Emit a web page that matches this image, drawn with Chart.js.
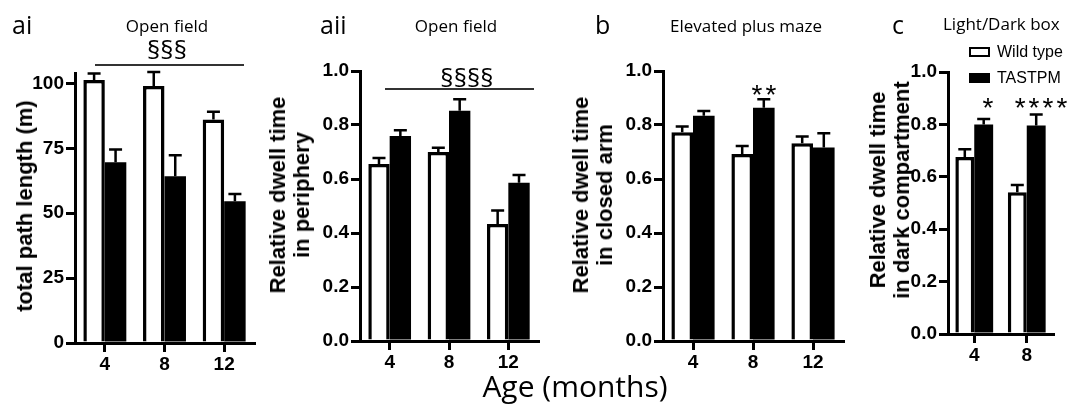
<!DOCTYPE html>
<html>
<head>
<meta charset="utf-8">
<script src="https://cdn.jsdelivr.net/npm/chart.js@4"></script>
<style>
  body { margin: 0; background: #fff; }
  #page { position: relative; width: 1070px; height: 412px; background: #fff; overflow: hidden; }
  canvas { position: absolute; top: 0; }
  .t { position: absolute; white-space: nowrap; line-height: 1; color: #000; }
  .os { font-family: "Open Sans", sans-serif; }
  .ar { font-family: "Liberation Sans", Arial, sans-serif; }
  .cx { transform: translateX(-50%); }
  .ytitle { position: absolute; font-family: "Liberation Sans", Arial, sans-serif; font-weight: bold;
            font-size: 22px; line-height: 24px; text-align: center; white-space: nowrap;
            transform: translate(-50%, -50%) rotate(-90deg); }
  .sig { position: absolute; height: 1.5px; background: #333; }
  .box { position: absolute; box-sizing: border-box; width: 21px; border: 2.5px solid #000; }
</style>
</head>
<body>
<div id="page">
  <canvas id="chartAi" width="270" height="380" style="left:0px"></canvas>
  <canvas id="chartAii" width="290" height="380" style="left:260px"></canvas>
  <canvas id="chartB" width="300" height="380" style="left:550px"></canvas>
  <canvas id="chartC" width="220" height="380" style="left:850px"></canvas>

  <div class="t os" style="left:12px;top:12px;font-size:25px">ai</div>
  <div class="t os" style="left:320px;top:12px;font-size:25px">aii</div>
  <div class="t os" style="left:595px;top:12px;font-size:25px">b</div>
  <div class="t os" style="left:892px;top:12px;font-size:25px">c</div>

  <div class="t os cx" style="left:167px;top:17px;font-size:17px">Open field</div>
  <div class="t os cx" style="left:456px;top:17px;font-size:17px">Open field</div>
  <div class="t os" style="left:670px;top:17px;font-size:17px">Elevated plus maze</div>
  <div class="t os" style="left:943px;top:15px;font-size:17px">Light/Dark box</div>

  <div class="t os cx" style="left:167px;top:36px;font-size:26px">§§§</div>
  <div class="sig" style="left:95px;top:64px;width:149px"></div>
  <div class="t os cx" style="left:467px;top:64px;font-size:26px">§§§§</div>
  <div class="sig" style="left:385px;top:88px;width:149px"></div>

  <div class="t ar cx" style="left:764px;top:81px;font-size:28px;letter-spacing:3px;padding-left:3px">**</div>
  <div class="t ar cx" style="left:988px;top:94px;font-size:28px">*</div>
  <div class="t ar cx" style="left:1041px;top:94px;font-size:28px;letter-spacing:3px;padding-left:3px">****</div>

  <div class="box" style="left:969px;top:47px;height:10px;background:#fff"></div>
  <div class="box" style="left:969px;top:73px;height:10px;background:#000"></div>
  <div class="t ar" style="left:997px;top:44px;font-size:16px">Wild type</div>
  <div class="t ar" style="left:997px;top:70px;font-size:16px">TASTPM</div>

  <div class="ytitle" style="left:25px;top:206px">total path length (m)</div>
  <div class="ytitle" style="left:290px;top:195px">Relative dwell time<br>in periphery</div>
  <div class="ytitle" style="left:593px;top:195px">Relative dwell time<br>in closed arm</div>
  <div class="ytitle" style="left:890px;top:190px">Relative dwell time<br>in dark compartment</div>

  <div class="t os cx" style="left:575px;top:371px;font-size:30px">Age (months)</div>
</div>

<script>
// ages (months) on the x axes
const ages = ["4", "8", "12"];
const agesLdb = ["4", "8"];

// ai: open field, total path length (m)
const pathWt = [101.3, 99.0, 86.1];
const pathWtErr = [2.5, 5.4, 3.0];
const pathTg = [69.6, 64.2, 54.6];
const pathTgErr = [4.9, 8.1, 2.8];

// aii: open field, relative dwell time in periphery
const periWt = [0.656, 0.700, 0.433];
const periWtErr = [0.022, 0.016, 0.050];
const periTg = [0.759, 0.853, 0.586];
const periTgErr = [0.022, 0.042, 0.029];

// b: elevated plus maze, relative dwell time in closed arm
const armWt = [0.773, 0.693, 0.732];
const armWtErr = [0.021, 0.029, 0.025];
const armTg = [0.834, 0.864, 0.717];
const armTgErr = [0.018, 0.031, 0.052];

// c: light/dark box, relative dwell time in dark compartment
const darkWt = [0.676, 0.541];
const darkWtErr = [0.029, 0.028];
const darkTg = [0.800, 0.796];
const darkTgErr = [0.021, 0.042];

// tick labels
const pathTicks = [0, 25, 50, 75, 100];
const relTicks = [0, 0.2, 0.4, 0.6, 0.8, 1.0];

const tickFont = { family: "Liberation Sans", size: 19, weight: "bold" };

// SEM bars, upward only
const errorBars = {
    id: "errorBars",
    afterDatasetsDraw(chart) {
        const ctx = chart.ctx;
        const yScale = chart.scales.y;
        chart.data.datasets.forEach((ds, i) => {
            const meta = chart.getDatasetMeta(i);
            meta.data.forEach((bar, j) => {
                const top = yScale.getPixelForValue(ds.data[j] + ds.errors[j]);
                ctx.save();
                ctx.strokeStyle = "#000";
                ctx.lineWidth = 2.5;
                ctx.beginPath();
                ctx.moveTo(bar.x, bar.y);
                ctx.lineTo(bar.x, top);
                ctx.moveTo(bar.x - 6.5, top);
                ctx.lineTo(bar.x + 6.5, top);
                ctx.stroke();
                ctx.restore();
            });
        });
    }
};

function makePanel(id, labels, wt, wtErr, tg, tgErr, yMax, yTicks, decimals, pad) {
    new Chart(id, {
        type: "bar",
        data: {
            labels: labels,
            datasets: [{
                label: "Wild type",
                data: wt,
                errors: wtErr,
                backgroundColor: "#fff",
                borderColor: "#000",
                borderWidth: 3.5,
                categoryPercentage: 0.72,
                barPercentage: 1.0
            }, {
                label: "TASTPM",
                data: tg,
                errors: tgErr,
                backgroundColor: "#000",
                borderColor: "#000",
                borderWidth: 0,
                categoryPercentage: 0.72,
                barPercentage: 1.0
            }]
        },
        options: {
            responsive: false,
            animation: false,
            layout: { padding: pad },
            plugins: {
                legend: { display: false },
                tooltip: { enabled: false }
            },
            scales: {
                x: {
                    offset: true,
                    afterFit: s => { s.height = 30; },
                    border: { width: 3, color: "#000" },
                    grid: { offset: false, drawOnChartArea: false, tickLength: 9, lineWidth: 3, color: "#000" },
                    ticks: { color: "#000", font: tickFont, padding: 1 }
                },
                y: {
                    min: 0,
                    max: yMax,
                    afterBuildTicks: s => { s.ticks = yTicks.map(v => ({ value: v })); },
                    afterFit: s => { s.width = 45; },
                    border: { width: 3, color: "#000" },
                    grid: { drawOnChartArea: false, tickLength: 9, lineWidth: 3, color: "#000" },
                    ticks: { color: "#000", font: tickFont, padding: 2, callback: v => v.toFixed(decimals) }
                }
            }
        },
        plugins: [errorBars]
    });
}

makePanel("chartAi", ages, pathWt, pathWtErr, pathTg, pathTgErr, 104, pathTicks, 0,
    { left: 30, right: 16, top: 73, bottom: 7 });
makePanel("chartAii", ages, periWt, periWtErr, periTg, periTgErr, 1.0, relTicks, 1,
    { left: 55, right: 12, top: 71, bottom: 9 });
makePanel("chartB", ages, armWt, armWtErr, armTg, armTgErr, 1.0, relTicks, 1,
    { left: 68, right: 7, top: 71, bottom: 9 });
makePanel("chartC", agesLdb, darkWt, darkWtErr, darkTg, darkTgErr, 1.0, relTicks, 1,
    { left: 53, right: 17, top: 72, bottom: 16 });
</script>
</body>
</html>
